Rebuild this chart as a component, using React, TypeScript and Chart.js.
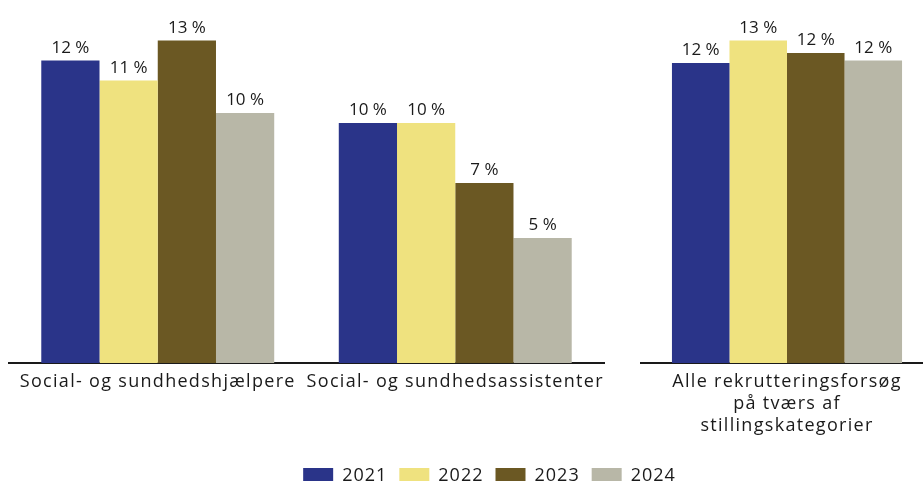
import React, { useEffect, useRef } from "react";
import { Chart, registerables } from "chart.js";

Chart.register(...registerables);

const years = ["2021", "2022", "2023", "2024"];
const colors = ["#2A3489", "#EFE27F", "#6B5823", "#B8B7A7"];

const categoriesLeft = ["Social- og sundhedshjælpere", "Social- og sundhedsassistenter"];
const categoriesRight = [["Alle rekrutteringsforsøg", "på tværs af", "stillingskategorier"]];

// values per year: [hjælpere, assistenter]
const left2021 = [12.1, 9.6];
const left2022 = [11.3, 9.6];
const left2023 = [12.9, 7.2];
const left2024 = [10.0, 5.0];

// values per year: [alle]
const right2021 = [12.0];
const right2022 = [12.9];
const right2023 = [12.4];
const right2024 = [12.1];

const yMax = 14;
const FONT = "'Open Sans', sans-serif";
const TEXT = "#1a1a1a";

const spacing = (px: string) => ({
  id: "spacing",
  beforeLayout(chart: any) {
    chart.ctx.letterSpacing = px;
  },
  beforeDraw(chart: any) {
    chart.ctx.letterSpacing = px;
  },
});

const valueLabels = {
  id: "valueLabels",
  afterDatasetsDraw(chart: any) {
    const ctx = chart.ctx;
    ctx.save();
    ctx.letterSpacing = "0px";
    ctx.font = `17px ${FONT}`;
    ctx.fillStyle = TEXT;
    ctx.textAlign = "center";
    ctx.textBaseline = "alphabetic";
    chart.data.datasets.forEach((ds: any, i: number) => {
      const meta = chart.getDatasetMeta(i);
      meta.data.forEach((el: any, j: number) => {
        const v = ds.data[j];
        ctx.fillText(`${Math.round(v)} %`, el.x, el.y - 8);
      });
    });
    ctx.restore();
  },
};

function makeConfig(labels: any[], series: number[][], catPct: number, padding: any) {
  return {
    type: "bar" as const,
    data: {
      labels,
      datasets: years.map((y, i) => ({
        label: y,
        data: series[i],
        backgroundColor: colors[i],
        borderWidth: 0,
        categoryPercentage: catPct,
        barPercentage: 1,
      })),
    },
    options: {
      responsive: false,
      animation: false as const,
      layout: { padding },
      plugins: { legend: { display: false }, tooltip: { enabled: false } },
      scales: {
        y: { display: false, min: 0, max: yMax },
        x: {
          grid: { display: false, drawTicks: false },
          border: { display: true, color: "#1a1a1a", width: 2 },
          ticks: {
            color: TEXT,
            font: { family: FONT, size: 18, lineHeight: 1.22 },
            padding: 8,
            autoSkip: false,
            maxRotation: 0,
          },
          afterFit: (scale: any) => {
            scale.height = 87;
          },
        },
      },
    },
    plugins: [spacing("1.3px"), valueLabels],
  };
}

export default function App() {
  const leftRef = useRef<HTMLCanvasElement>(null);
  const rightRef = useRef<HTMLCanvasElement>(null);
  const legendRef = useRef<HTMLCanvasElement>(null);

  useEffect(() => {
    const left = new Chart(
      leftRef.current!,
      makeConfig(categoriesLeft, [left2021, left2022, left2023, left2024], 0.783, {
        left: 9,
        right: 26,
        top: 13,
        bottom: 0,
      }) as any
    );
    const right = new Chart(
      rightRef.current!,
      makeConfig(categoriesRight, [right2021, right2022, right2023, right2024], 0.788, {
        left: 11,
        right: 0,
        top: 13,
        bottom: 0,
      }) as any
    );
    const legend = new Chart(legendRef.current!, {
      type: "bar",
      data: {
        labels: [],
        datasets: years.map((y, i) => ({ label: y, data: [], backgroundColor: colors[i] })),
      },
      options: {
        responsive: false,
        animation: false,
        plugins: {
          tooltip: { enabled: false },
          legend: {
            display: true,
            position: "top",
            labels: {
              boxWidth: 30,
              boxHeight: 16,
              padding: 12,
              color: TEXT,
              font: { family: FONT, size: 18 },
            },
          },
        },
        scales: { x: { display: false }, y: { display: false } },
      },
      plugins: [spacing("1px")],
    } as any);
    return () => {
      left.destroy();
      right.destroy();
      legend.destroy();
    };
  }, []);

  return (
    <div
      style={{
        position: "absolute",
        left: 0,
        top: 0,
        width: 923,
        height: 481,
        overflow: "hidden",
        background: "#fff",
      }}
    >
      <canvas
        ref={leftRef}
        width={630}
        height={450}
        style={{ position: "absolute", left: 0, top: 0, width: 630, height: 450 }}
      />
      <canvas
        ref={rightRef}
        width={303}
        height={450}
        style={{ position: "absolute", left: 630, top: 0, width: 303, height: 450 }}
      />
      <canvas
        ref={legendRef}
        width={923}
        height={60}
        style={{ position: "absolute", left: 28, top: 455, width: 923, height: 60 }}
      />
    </div>
  );
}
